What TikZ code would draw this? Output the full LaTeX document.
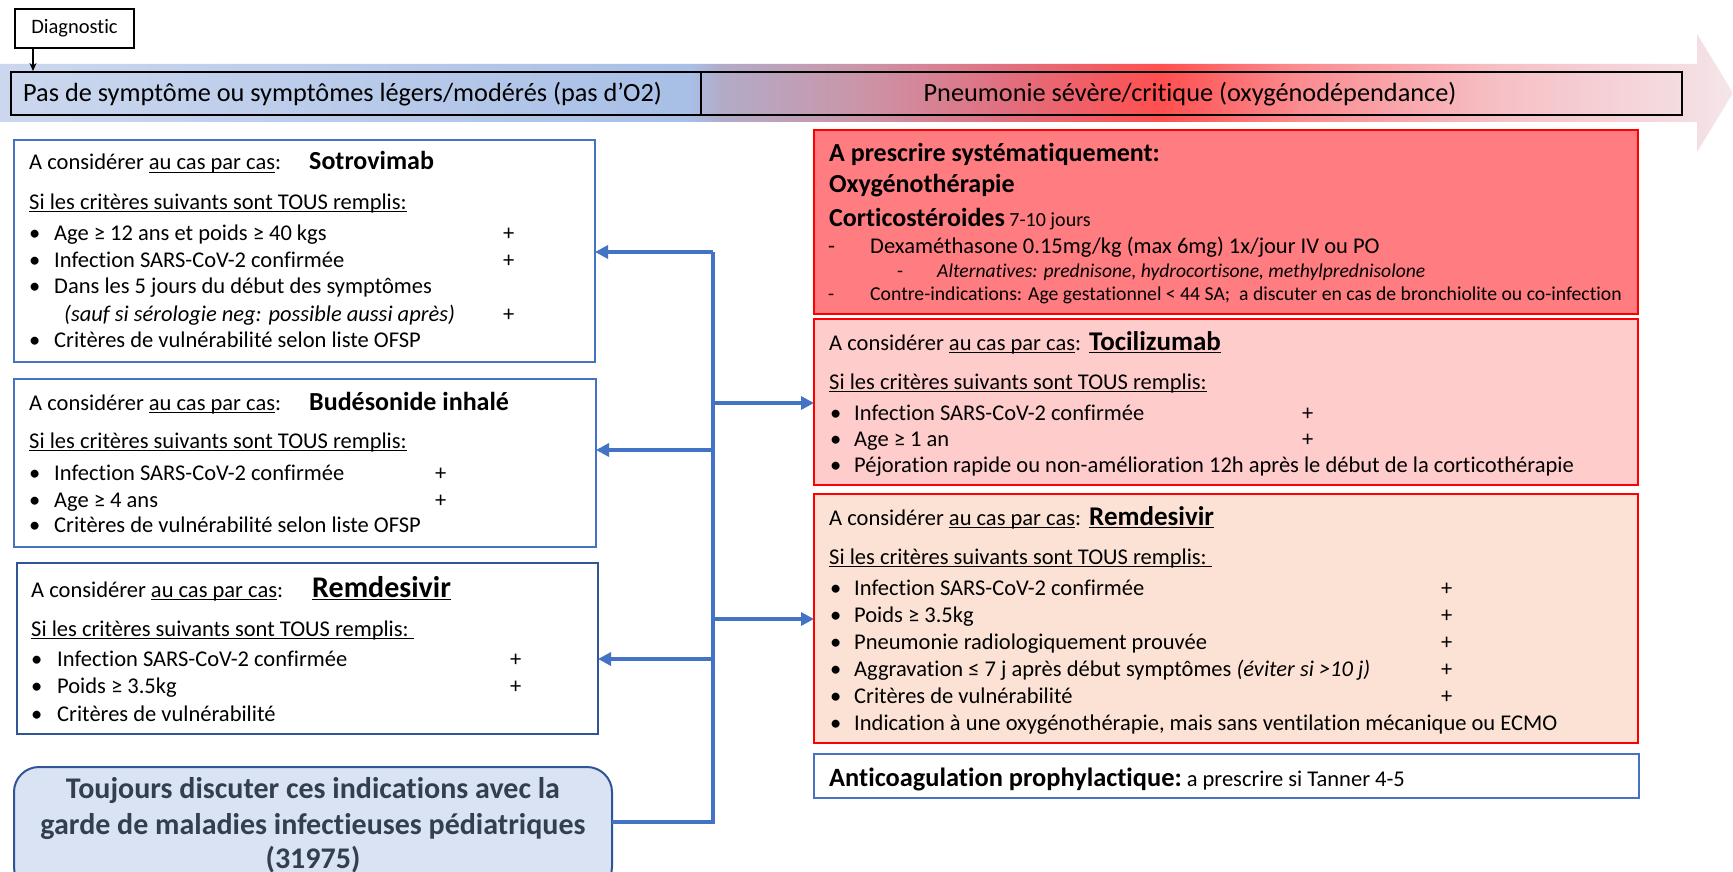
\documentclass[tikz,border=0pt]{standalone}
\usepackage{fontspec}
\setmainfont[Ligatures=NoCommon]{Carlito}
\usetikzlibrary{arrows.meta}
\definecolor{bordblue}{HTML}{4472C4}
\definecolor{darkblue}{HTML}{2F5597}
\definecolor{roundfill}{HTML}{DAE3F3}
\definecolor{roundtext}{HTML}{333F50}
\definecolor{redfill}{HTML}{FF7C80}
\definecolor{pinkfill}{HTML}{FFCCCC}
\definecolor{peachfill}{HTML}{FCE2D4}
\definecolor{sA}{HTML}{CBD7EE}
\definecolor{sB}{HTML}{A8BFE6}
\definecolor{sC}{HTML}{B2ABC8}
\definecolor{sD}{HTML}{CB95A8}
\definecolor{sE}{HTML}{E07080}
\definecolor{sF}{HTML}{FF4F4F}
\definecolor{sG}{HTML}{FB8C90}
\definecolor{sH}{HTML}{F6C0C6}
\definecolor{sI}{HTML}{F4DFE3}
\definecolor{sJ}{HTML}{F6E6E9}
\pgfdeclarehorizontalshading{bandshade}{100bp}{color(0bp)=(sA); color(25bp)=(sA); color(44.9bp)=(sB); color(45.8bp)=(sC); color(49.8bp)=(sD); color(53.9bp)=(sE); color(58.5bp)=(sF); color(62.5bp)=(sG); color(68.3bp)=(sH); color(74bp)=(sI); color(75bp)=(sJ); color(100bp)=(sJ)}
\newcommand\fs[1]{\fontsize{#1}{#1}\selectfont}
\newcommand\uln[1]{\setbox0\hbox{#1}\leavevmode\rlap{\vrule height -2pt depth 3.4pt width \wd0}\box0}
\newcommand\bitem[5]{\node[txt] (#1b) at (#2,#4) {\fs{22.5}•}; \node[txt] (#1) at (#3,#4) {\fs{22.5}#5};}
\newcommand\plus[3]{\node[txt] (#1) at (#2,#3) {\fs{22.5}+};}
\tikzset{
  txt/.style={anchor=base west, inner sep=0pt},
  box/.style={anchor=north west, inner sep=0pt, outer sep=0pt},
  lbox/.style={box, draw=bordblue, line width=1.3, fill=white},
  rbox/.style={box, draw=red, line width=1.5},
  barbox/.style={box, draw=black, line width=1.3},
  conn/.style={draw=bordblue, line width=4},
  arr/.style={conn, -{Triangle[length=13,width=13]}},
}
\begin{document}
\begin{tikzpicture}[x=1pt,y=-1pt]
\clip (0,0) rectangle (1733,872);
\fill[white] (0,0) rectangle (1733,872);
% band arrow
\path[shading=bandshade] (0,64) -- (1697,64) -- (1697,34) -- (1733,93) -- (1697,152) -- (1697,122) -- (0,122) -- cycle;
\node[barbox, minimum width=690, minimum height=43] (ib1) at (11,72) {};
\node[barbox, minimum width=981, minimum height=43] (ib2) at (701,72) {};
\node[txt] (ib1t) at (23,102) {\fs{26.3}Pas de symptôme ou symptômes légers/modérés (pas d’O2)};
\node[anchor=base, inner sep=0pt] (ib2t) at (1190,102) {\fs{26.3}Pneumonie sévère/critique (oxygénodépendance)};
% diagnostic
\node[box, draw=black, line width=1.2, fill=white, minimum width=119, minimum height=39] (diag) at (15,9) {};
\node[inner sep=0pt] (diagt) at (diag.center) {\fs{20.5}Diagnostic};
\coordinate (dtip) at (33,71);
\draw[line width=1.2, -{Stealth[length=8,width=7]}] (diag.south west -| dtip) -- (dtip);
% left boxes
\node[lbox, minimum width=581, minimum height=222] (L1) at (14,140) {};
\node[lbox, minimum width=582, minimum height=168] (L2) at (14,379) {};
\node[lbox, draw=darkblue, minimum width=581, minimum height=171] (L3) at (17,563) {};
\node[box, draw=darkblue, line width=2, fill=roundfill, rounded corners=25, minimum width=598, minimum height=125] (R) at (14,767) {};
% right boxes
\node[rbox, fill=redfill, minimum width=824, minimum height=184] (RB1) at (814,130) {};
\node[rbox, fill=pinkfill, minimum width=824, minimum height=166] (RB2) at (814,319) {};
\node[rbox, fill=peachfill, minimum width=824, minimum height=249] (RB3) at (814,494) {};
\node[lbox, minimum width=825, minimum height=44] (RB4) at (814,754) {};
% connectors
\coordinate (busT) at (713,252);
\coordinate (busB) at (713,822);
\coordinate (bus2) at (713,450);
\coordinate (bus3) at (713,659);
\coordinate (busR1) at (713,403);
\coordinate (busR2) at (713,619);
\draw[conn] (R.east |- busB) -- (busB) -- (busT);
\draw[arr] (busT) -- (busT -| L1.east);
\draw[arr] (bus2) -- (bus2 -| L2.east);
\draw[arr] (bus3) -- (bus3 -| L3.east);
\draw[arr] (busR1) -- (busR1 -| RB2.west);
\draw[arr] (busR2) -- (busR2 -| RB3.west);
% left box 1
\node[txt] (l1a) at (29,170) {\fs{22.5}A considérer \uln{au cas par cas}:};
\node[txt] (l1n) at (309,170) {\fs{26}\bfseries Sotrovimab};
\node[txt] (l1s) at (29,209) {\fs{22.5}\uln{Si les critères suivants sont TOUS remplis:}};
\bitem{l1i1}{29}{54}{240}{Age ≥ 12 ans et poids ≥ 40 kgs}
\bitem{l1i2}{29}{54}{267}{Infection SARS-CoV-2 confirmée}
\bitem{l1i3}{29}{54}{293}{Dans les 5 jours du début des symptômes}
\node[txt] (l1i4) at (64,321) {\fs{22.5}\itshape (sauf si sérologie neg: possible aussi après)};
\bitem{l1i5}{29}{54}{347}{Critères de vulnérabilité selon liste OFSP}
\plus{l1p1}{503}{240}
\plus{l1p2}{503}{267}
\plus{l1p3}{503}{321}
% left box 2
\node[txt] (l2a) at (29,410) {\fs{22.5}A considérer \uln{au cas par cas}:};
\node[txt] (l2n) at (309,410) {\fs{26}\bfseries Budésonide inhalé};
\node[txt] (l2s) at (29,448) {\fs{22.5}\uln{Si les critères suivants sont TOUS remplis:}};
\bitem{l2i1}{29}{54}{480}{Infection SARS-CoV-2 confirmée}
\bitem{l2i2}{29}{54}{507}{Age ≥ 4 ans}
\bitem{l2i3}{29}{54}{532}{Critères de vulnérabilité selon liste OFSP}
\plus{l2p1}{435}{480}
\plus{l2p2}{435}{507}
% left box 3
\node[txt] (l3a) at (31,597) {\fs{22.5}A considérer \uln{au cas par cas}:};
\node[txt] (l3n) at (312,597) {\fs{30}\bfseries \uln{Remdesivir}};
\node[txt] (l3s) at (31,636) {\fs{22.5}\uln{Si les critères suivants sont TOUS remplis:\ }};
\bitem{l3i1}{31}{57}{666}{Infection SARS-CoV-2 confirmée}
\bitem{l3i2}{31}{57}{693}{Poids ≥ 3.5kg}
\bitem{l3i3}{31}{57}{721}{Critères de vulnérabilité}
\plus{l3p1}{510}{666}
\plus{l3p2}{510}{693}
% rounded box text
\node[anchor=base, inner sep=0pt, text=roundtext] (rt1) at (313,798) {\fs{30}\bfseries Toujours discuter ces indications avec la};
\node[anchor=base, inner sep=0pt, text=roundtext] (rt2) at (313,834) {\fs{30}\bfseries garde de maladies infectieuses pédiatriques};
\node[anchor=base, inner sep=0pt, text=roundtext] (rt3) at (313,868) {\fs{30}\bfseries (31975)};
% red box
\node[txt] (r1a) at (829,162) {\fs{26}\bfseries A prescrire systématiquement:};
\node[txt] (r1b) at (829,193) {\fs{26}\bfseries Oxygénothérapie};
\node[txt] (r1c) at (829,226) {\fs{26}\bfseries Corticostéroides\fs{20}\mdseries\ 7-10 jours};
\node[txt] (r1d1) at (828,253) {\fs{22.5}-};
\node[txt] (r1d) at (870,253) {\fs{22.5}Dexaméthasone 0.15mg/kg (max 6mg) 1x/jour IV ou PO};
\node[txt] (r1e1) at (897,277) {\fs{19.6}-};
\node[txt] (r1e) at (937,277) {\fs{19.6}\itshape Alternatives: prednisone, hydrocortisone, methylprednisolone};
\node[txt] (r1f1) at (828,300) {\fs{19.7}-};
\node[txt] (r1f) at (870,300) {\fs{19.7}Contre-indications: Age gestationnel < 44 SA;\ \ a discuter en cas de bronchiolite ou co-infection};
% tocilizumab box
\node[txt] (r2a) at (829,350) {\fs{22.5}A considérer \uln{au cas par cas}:};
\node[txt] (r2n) at (1089,350) {\fs{27}\bfseries \uln{Tocilizumab}};
\node[txt] (r2s) at (829,389) {\fs{22.5}\uln{Si les critères suivants sont TOUS remplis:}};
\bitem{r2i1}{830}{854}{420}{Infection SARS-CoV-2 confirmée}
\bitem{r2i2}{830}{854}{446}{Age ≥ 1 an}
\bitem{r2i3}{830}{854}{472}{Péjoration rapide ou non-amélioration 12h après le début de la corticothérapie}
\plus{r2p1}{1302}{420}
\plus{r2p2}{1302}{446}
% remdesivir right box
\node[txt] (r3a) at (829,525) {\fs{22.5}A considérer \uln{au cas par cas}:};
\node[txt] (r3n) at (1089,525) {\fs{27}\bfseries \uln{Remdesivir}};
\node[txt] (r3s) at (829,564) {\fs{22.5}\uln{Si les critères suivants sont TOUS remplis:\ }};
\bitem{r3i1}{830}{854}{595}{Infection SARS-CoV-2 confirmée}
\bitem{r3i2}{830}{854}{622}{Poids ≥ 3.5kg}
\bitem{r3i3}{830}{854}{649}{Pneumonie radiologiquement prouvée}
\bitem{r3i4}{830}{854}{676}{Aggravation ≤ 7 j après début symptômes \textit{(éviter si >10 j)}}
\bitem{r3i5}{830}{854}{703}{Critères de vulnérabilité}
\bitem{r3i6}{830}{854}{730}{Indication à une oxygénothérapie, mais sans ventilation mécanique ou ECMO}
\plus{r3p1}{1441}{595}
\plus{r3p2}{1441}{622}
\plus{r3p3}{1441}{649}
\plus{r3p4}{1441}{676}
\plus{r3p5}{1441}{703}
% anticoag
\node[txt] (r4a) at (829,786) {\fs{26.4}\bfseries Anticoagulation prophylactique:\fs{22.5}\mdseries\ a prescrire si Tanner 4-5};
\end{tikzpicture}
\end{document}
